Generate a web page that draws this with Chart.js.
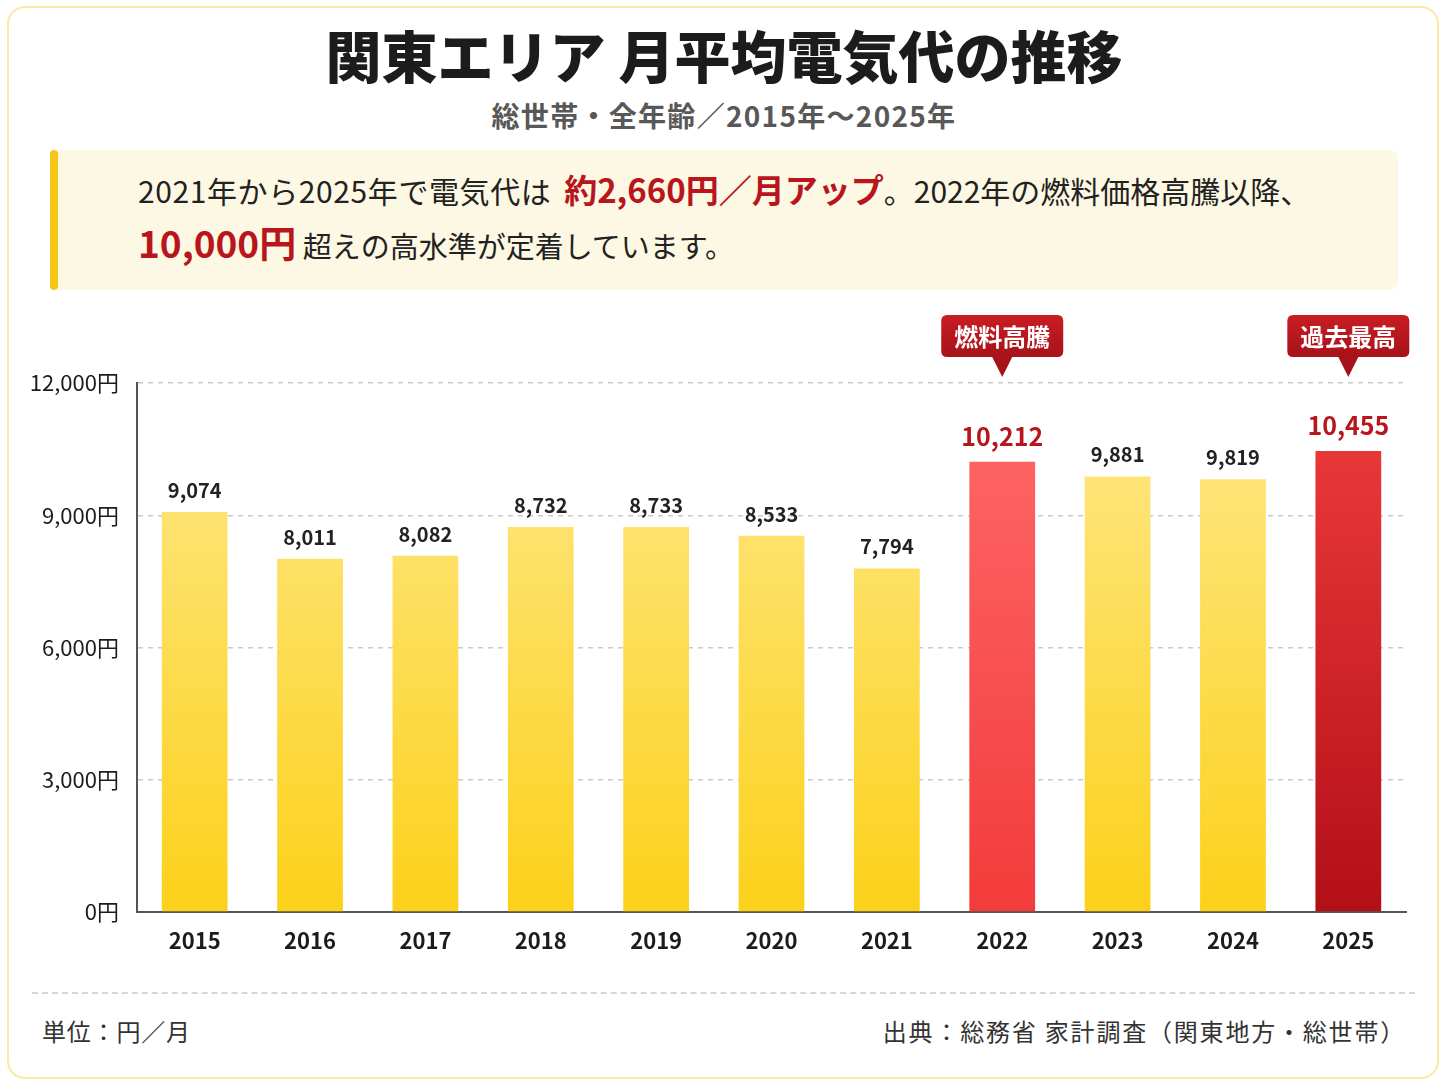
<!DOCTYPE html>
<html lang="ja">
<head>
<meta charset="utf-8">
<script src="https://cdn.jsdelivr.net/npm/chart.js@4.4.1/dist/chart.umd.min.js"></script>
<style>
  html, body { margin:0; padding:0; background:#fff; }
  body { width:1448px; height:1086px; position:relative; overflow:hidden;
         font-family:"Noto Sans CJK JP","Noto Sans",sans-serif; color:#222; }
  #card { position:absolute; left:7px; top:6px; width:1428px; height:1069px;
          border:2px solid #fbe9a6; border-radius:18px; }
  #title { position:absolute; left:0; width:1448px; top:17px; text-align:center;
           font-size:56px; font-weight:900; color:#1c1c1c; line-height:74px; }
  #sub { position:absolute; left:0; width:1448px; top:96px; text-align:center;
         font-size:28px; font-weight:700; color:#585858; line-height:38px; letter-spacing:1.3px; }
  #callout { position:absolute; left:50px; top:150px; width:1348px; height:140px;
             background:#fdf8e3; border-radius:8px; }
  #callout .bar { position:absolute; left:0; top:0; width:8px; height:140px; background:#f7c515; border-radius:4px; }
  #callout .l { position:absolute; left:88px; color:#222; white-space:nowrap; line-height:44px; }
  #callout .l1 { top:17px; font-size:30px; }
  #callout .l2 { top:70px; font-size:29px; }
  .d { letter-spacing:0.6px; }
  .em { color:#b8151d; font-weight:700; font-size:33px; margin-left:6px; }
  .em2 { color:#b8151d; font-weight:700; font-size:37px; }
  #chartwrap { position:absolute; left:0; top:300px; width:1448px; height:680px; }
  #dash { position:absolute; left:32px; top:992px; width:1383px; border-top:2px dashed #d6d6d6; }
  #unit { position:absolute; left:42px; top:1014px; font-size:24px; color:#333; line-height:34px; letter-spacing:0.8px; }
  #src { position:absolute; right:42px; top:1014px; font-size:24px; color:#333; line-height:34px; letter-spacing:1.8px; }
</style>
</head>
<body>
<div id="card"></div>
<div id="title">関東エリア 月平均電気代の推移</div>
<div id="sub">総世帯・全年齢／2015年～2025年</div>
<div id="callout">
  <div class="bar"></div>
  <div class="l l1"><span class="d">2021年から2025年で電気代は</span> <span class="em">約2,660円／月アップ</span>。2022年の燃料価格高騰以降、</div>
  <div class="l l2"><span class="em2">10,000円</span> 超えの高水準が定着しています。</div>
</div>
<div id="chartwrap"><canvas id="c" width="1448" height="680"></canvas></div>
<div id="dash"></div>
<div id="unit">単位：円／月</div>
<div id="src">出典：総務省 家計調査（関東地方・総世帯）</div>

<script>
const years = ['2015','2016','2017','2018','2019','2020','2021','2022','2023','2024','2025'];
const costs = [9074, 8011, 8082, 8732, 8733, 8533, 7794, 10212, 9881, 9819, 10455];
const barKinds = ['n','n','n','n','n','n','n','hi','n','n','max'];
const badges = [null,null,null,null,null,null,null,'燃料高騰',null,null,'過去最高'];
const yTicks = [0, 3000, 6000, 9000, 12000];

const FONT = '"Noto Sans CJK JP","Noto Sans",sans-serif';

function barFill(ctx) {
  const chart = ctx.chart;
  const area = chart.chartArea;
  if (!area) return '#fcd62a';
  const kind = barKinds[ctx.dataIndex];
  const g = chart.ctx.createLinearGradient(0, area.top, 0, area.bottom);
  if (kind === 'hi') { g.addColorStop(0, '#ff6a6a'); g.addColorStop(1, '#f33b3b'); }
  else if (kind === 'max') { g.addColorStop(0, '#f13d3d'); g.addColorStop(1, '#b30f17'); }
  else { g.addColorStop(0, '#fee88c'); g.addColorStop(1, '#fcd11a'); }
  return g;
}

const labelPlugin = {
  id: 'labels',
  afterDatasetsDraw(chart) {
    const ctx = chart.ctx;
    const meta = chart.getDatasetMeta(0);
    const area = chart.chartArea;
    ctx.save();
    meta.data.forEach((bar, i) => {
      const v = costs[i];
      const red = barKinds[i] !== 'n';
      ctx.textAlign = 'center';
      ctx.textBaseline = 'alphabetic';
      ctx.fillStyle = red ? '#b8151d' : '#222';
      ctx.font = (red ? '700 25px ' : '700 20px ') + FONT;
      ctx.fillText(v.toLocaleString('en-US'), bar.x, bar.y - (red ? 16 : 14));
      if (badges[i]) {
        const w = 122, h = 42, r = 6;
        const tip = area.top - 6;
        const bottom = tip - 20;
        const top = bottom - h;
        const left = bar.x - w / 2;
        const g = ctx.createLinearGradient(0, top, 0, bottom);
        g.addColorStop(0, '#c81d24'); g.addColorStop(1, '#a8121a');
        ctx.fillStyle = g;
        ctx.beginPath();
        ctx.moveTo(left + r, top);
        ctx.lineTo(left + w - r, top);
        ctx.quadraticCurveTo(left + w, top, left + w, top + r);
        ctx.lineTo(left + w, bottom - r);
        ctx.quadraticCurveTo(left + w, bottom, left + w - r, bottom);
        ctx.lineTo(bar.x + 10, bottom);
        ctx.lineTo(bar.x, tip);
        ctx.lineTo(bar.x - 10, bottom);
        ctx.lineTo(left + r, bottom);
        ctx.quadraticCurveTo(left, bottom, left, bottom - r);
        ctx.lineTo(left, top + r);
        ctx.quadraticCurveTo(left, top, left + r, top);
        ctx.closePath();
        ctx.fill();
        ctx.fillStyle = '#fff';
        ctx.font = '700 24px ' + FONT;
        ctx.textBaseline = 'middle';
        ctx.fillText(badges[i], bar.x, top + h / 2 + 1);
      }
    });
    ctx.restore();
  }
};

new Chart(document.getElementById('c'), {
  type: 'bar',
  data: {
    labels: years,
    datasets: [{
      data: costs,
      backgroundColor: barFill,
      borderWidth: 0,
      barPercentage: 0.57,
      categoryPercentage: 1.0
    }]
  },
  options: {
    responsive: false,
    animation: false,
    events: [],
    layout: { padding: { top: 83, right: 42, left: 0, bottom: 0 } },
    plugins: { legend: { display: false }, tooltip: { enabled: false } },
    scales: {
      x: {
        grid: { display: false, drawTicks: false },
        border: { display: true, color: '#555', width: 2 },
        ticks: { color: '#1c1c1c', font: { family: FONT, size: 22, weight: '700' }, padding: 15 },
        afterFit(scale) { scale.height = 68; }
      },
      y: {
        min: 0, max: 12000,
        afterBuildTicks(scale) { scale.ticks = yTicks.map(v => ({ value: v })); },
        grid: { color: '#c9c9c9', lineWidth: 1.5, drawTicks: false },
        border: { display: true, color: '#555', width: 2, dash: [5, 5] },
        ticks: {
          color: '#1c1c1c', padding: 18,
          font: { family: FONT, size: 22 },
          callback: v => Number(v).toLocaleString('en-US') + '円'
        },
        afterFit(scale) { scale.width = 137; }
      }
    }
  },
  plugins: [labelPlugin]
});
</script>
</body>
</html>
